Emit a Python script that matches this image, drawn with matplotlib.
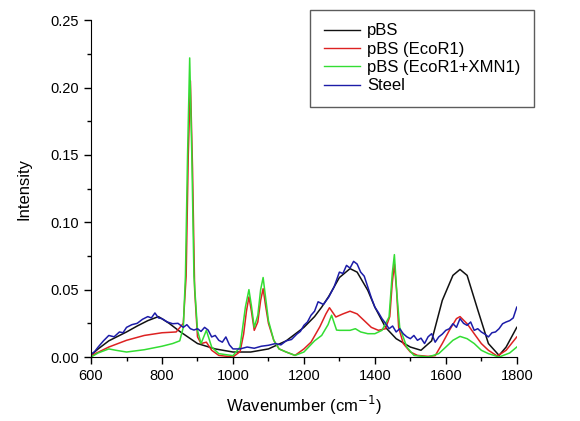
import matplotlib
matplotlib.use("Agg")
import matplotlib.pyplot as plt
from matplotlib.ticker import MultipleLocator

plt.rcParams['font.family'] = ['Liberation Sans', 'DejaVu Sans']

# pBS
pbs_x = [600, 620, 650, 700, 730, 760, 790, 820, 850, 880, 900, 950, 1000, 1050,
         1100, 1150, 1200, 1230, 1250, 1270, 1300, 1330, 1350, 1380, 1400, 1430,
         1460, 1500, 1530, 1560, 1590, 1620, 1640, 1660, 1690, 1720, 1750, 1770, 1800]
pbs_y = [0.0015, 0.006, 0.012, 0.0186, 0.023, 0.027, 0.030, 0.025, 0.019, 0.0136,
         0.010, 0.006, 0.0037, 0.0037, 0.006, 0.012, 0.022, 0.030, 0.037, 0.045,
         0.059, 0.0656, 0.063, 0.0495, 0.037, 0.022, 0.0136, 0.0074, 0.005, 0.012,
         0.042, 0.0606, 0.065, 0.0606, 0.035, 0.010, 0.0012, 0.0074, 0.022]

# pBS (EcoR1)
ecor_x = [600, 650, 700, 750, 800, 840, 860, 868, 874, 880, 886, 892, 900, 910,
          925, 940, 960, 1000, 1020, 1030, 1038, 1045, 1052, 1060, 1070, 1078,
          1085, 1092, 1100, 1115, 1130, 1150, 1175, 1200, 1220, 1245, 1262, 1272,
          1290, 1310, 1330, 1350, 1370, 1390, 1410, 1430, 1442, 1449, 1455, 1461,
          1467, 1480, 1500, 1520, 1550, 1570, 1590, 1610, 1630, 1640, 1660, 1680,
          1700, 1720, 1745, 1770, 1800]
ecor_y = [0.001, 0.0074, 0.0124, 0.016, 0.018, 0.0186, 0.025, 0.06, 0.15, 0.205,
          0.14, 0.05, 0.015, 0.010, 0.011, 0.005, 0.0012, 0.0, 0.004, 0.017, 0.034,
          0.0446, 0.034, 0.0198, 0.026, 0.042, 0.0507, 0.038, 0.025, 0.0124, 0.006,
          0.0037, 0.0012, 0.006, 0.011, 0.0225, 0.032, 0.0366, 0.0297, 0.032, 0.034,
          0.032, 0.027, 0.022, 0.0198, 0.021, 0.03, 0.055, 0.069, 0.05, 0.022, 0.010,
          0.0037, 0.0012, 0.0005, 0.001, 0.010, 0.0198, 0.0285, 0.030, 0.0247,
          0.0173, 0.010, 0.005, 0.0007, 0.005, 0.0149]

# pBS (EcoR1+XMN1)
xmn_x = [600, 620, 650, 670, 700, 750, 800, 830, 850, 860, 866, 872, 878, 884, 890,
         900, 910, 925, 940, 960, 1000, 1020, 1035, 1045, 1052, 1060, 1070, 1078,
         1085, 1092, 1100, 1115, 1130, 1150, 1175, 1200, 1230, 1250, 1268, 1278,
         1292, 1300, 1330, 1345, 1360, 1380, 1400, 1420, 1440, 1449, 1455, 1462,
         1470, 1490, 1510, 1550, 1580, 1600, 1620, 1640, 1660, 1680, 1700, 1720,
         1750, 1780, 1800]
xmn_y = [0.0, 0.003, 0.006, 0.005, 0.0037, 0.0054, 0.008, 0.010, 0.012, 0.022, 0.06,
         0.15, 0.222, 0.15, 0.06, 0.0198, 0.010, 0.0198, 0.0074, 0.0025, 0.001, 0.0074,
         0.037, 0.050, 0.038, 0.022, 0.031, 0.050, 0.059, 0.044, 0.027, 0.0124, 0.006,
         0.0037, 0.0012, 0.0037, 0.012, 0.016, 0.024, 0.031, 0.020, 0.0198, 0.0198,
         0.021, 0.0186, 0.0173, 0.0173, 0.0198, 0.0297, 0.062, 0.076, 0.047, 0.022,
         0.0074, 0.0012, 0.0, 0.0025, 0.0074, 0.0124, 0.0153, 0.0136, 0.010, 0.005,
         0.0025, 0.0, 0.003, 0.0074]

# Steel
steel_x = [600, 610, 620, 635, 650, 665, 680, 690, 700, 715, 730, 745, 760, 770, 780,
           790, 800, 815, 830, 845, 860, 870, 880, 890, 900, 910, 920, 930, 940, 950,
           960, 970, 980, 990, 1000, 1020, 1040, 1060, 1080, 1100, 1120, 1135, 1150,
           1165, 1180, 1190, 1200, 1210, 1220, 1230, 1240, 1255, 1270, 1285, 1300,
           1310, 1320, 1330, 1340, 1350, 1360, 1370, 1380, 1390, 1400, 1410, 1420,
           1430, 1440, 1450, 1460, 1470, 1480, 1490, 1500, 1510, 1520, 1530, 1540,
           1550, 1560, 1570, 1580, 1590, 1600, 1610, 1620, 1630, 1640, 1650, 1660,
           1670, 1680, 1690, 1700, 1710, 1720, 1730, 1740, 1750, 1760, 1770, 1780,
           1790, 1800]
steel_y = [0.002, 0.004, 0.0074, 0.012, 0.016, 0.015, 0.0186, 0.018, 0.022, 0.024,
           0.025, 0.028, 0.030, 0.029, 0.0327, 0.029, 0.0285, 0.026, 0.0247, 0.025,
           0.022, 0.024, 0.021, 0.020, 0.021, 0.019, 0.022, 0.020, 0.0149, 0.016,
           0.0124, 0.011, 0.0149, 0.009, 0.006, 0.006, 0.0074, 0.0065, 0.008, 0.0087,
           0.010, 0.009, 0.012, 0.013, 0.017, 0.019, 0.0235, 0.026, 0.031, 0.034,
           0.041, 0.039, 0.0445, 0.052, 0.063, 0.062, 0.068, 0.066, 0.071, 0.069,
           0.063, 0.060, 0.052, 0.044, 0.037, 0.033, 0.0285, 0.025, 0.021, 0.023,
           0.0186, 0.021, 0.0173, 0.015, 0.0136, 0.016, 0.0124, 0.014, 0.010, 0.015,
           0.0173, 0.011, 0.0149, 0.017, 0.0198, 0.021, 0.0247, 0.022, 0.0285, 0.025,
           0.0235, 0.026, 0.0198, 0.021, 0.0186, 0.017, 0.0149, 0.018, 0.0186, 0.021,
           0.0247, 0.026, 0.027, 0.029, 0.037]

fig = plt.figure(figsize=(5.8, 4.21), dpi=100)
ax = fig.add_axes([0.157, 0.152, 0.734, 0.8])

ax.plot(pbs_x, pbs_y, color='#111111', lw=1.1, label='pBS')
ax.plot(ecor_x, ecor_y, color='#dd2222', lw=1.1, label='pBS (EcoR1)')
ax.plot(xmn_x, xmn_y, color='#33dd33', lw=1.1, label='pBS (EcoR1+XMN1)')
ax.plot(steel_x, steel_y, color='#1c1ca8', lw=1.1, label='Steel')

ax.set_xlim(600, 1800)
ax.set_ylim(0, 0.25)
ax.xaxis.set_major_locator(MultipleLocator(200))
ax.xaxis.set_minor_locator(MultipleLocator(100))
ax.yaxis.set_major_locator(MultipleLocator(0.05))
ax.yaxis.set_minor_locator(MultipleLocator(0.025))
ax.yaxis.set_major_formatter(matplotlib.ticker.FormatStrFormatter('%.2f'))
ax.tick_params(which='both', direction='out', labelsize=10.5, width=1)
ax.tick_params(which='major', length=5)
ax.tick_params(which='minor', length=3)
for s in ['top', 'right']:
    ax.spines[s].set_visible(False)

ax.set_xlabel('Wavenumber (cm$^{-1}$)', fontsize=12, labelpad=8)
ax.set_ylabel('Intensity', fontsize=12, labelpad=14)

leg = ax.legend(loc='upper right', bbox_to_anchor=(1.04, 1.03), fontsize=12,
                fancybox=False, edgecolor='#333333', handlelength=2.2,
                labelspacing=0.2, borderpad=0.8, handletextpad=0.4, borderaxespad=0)
leg.get_frame().set_linewidth(1.0)
for l in leg.get_lines():
    l.set_linewidth(1.0)

fig.savefig('out.png', dpi=100)
